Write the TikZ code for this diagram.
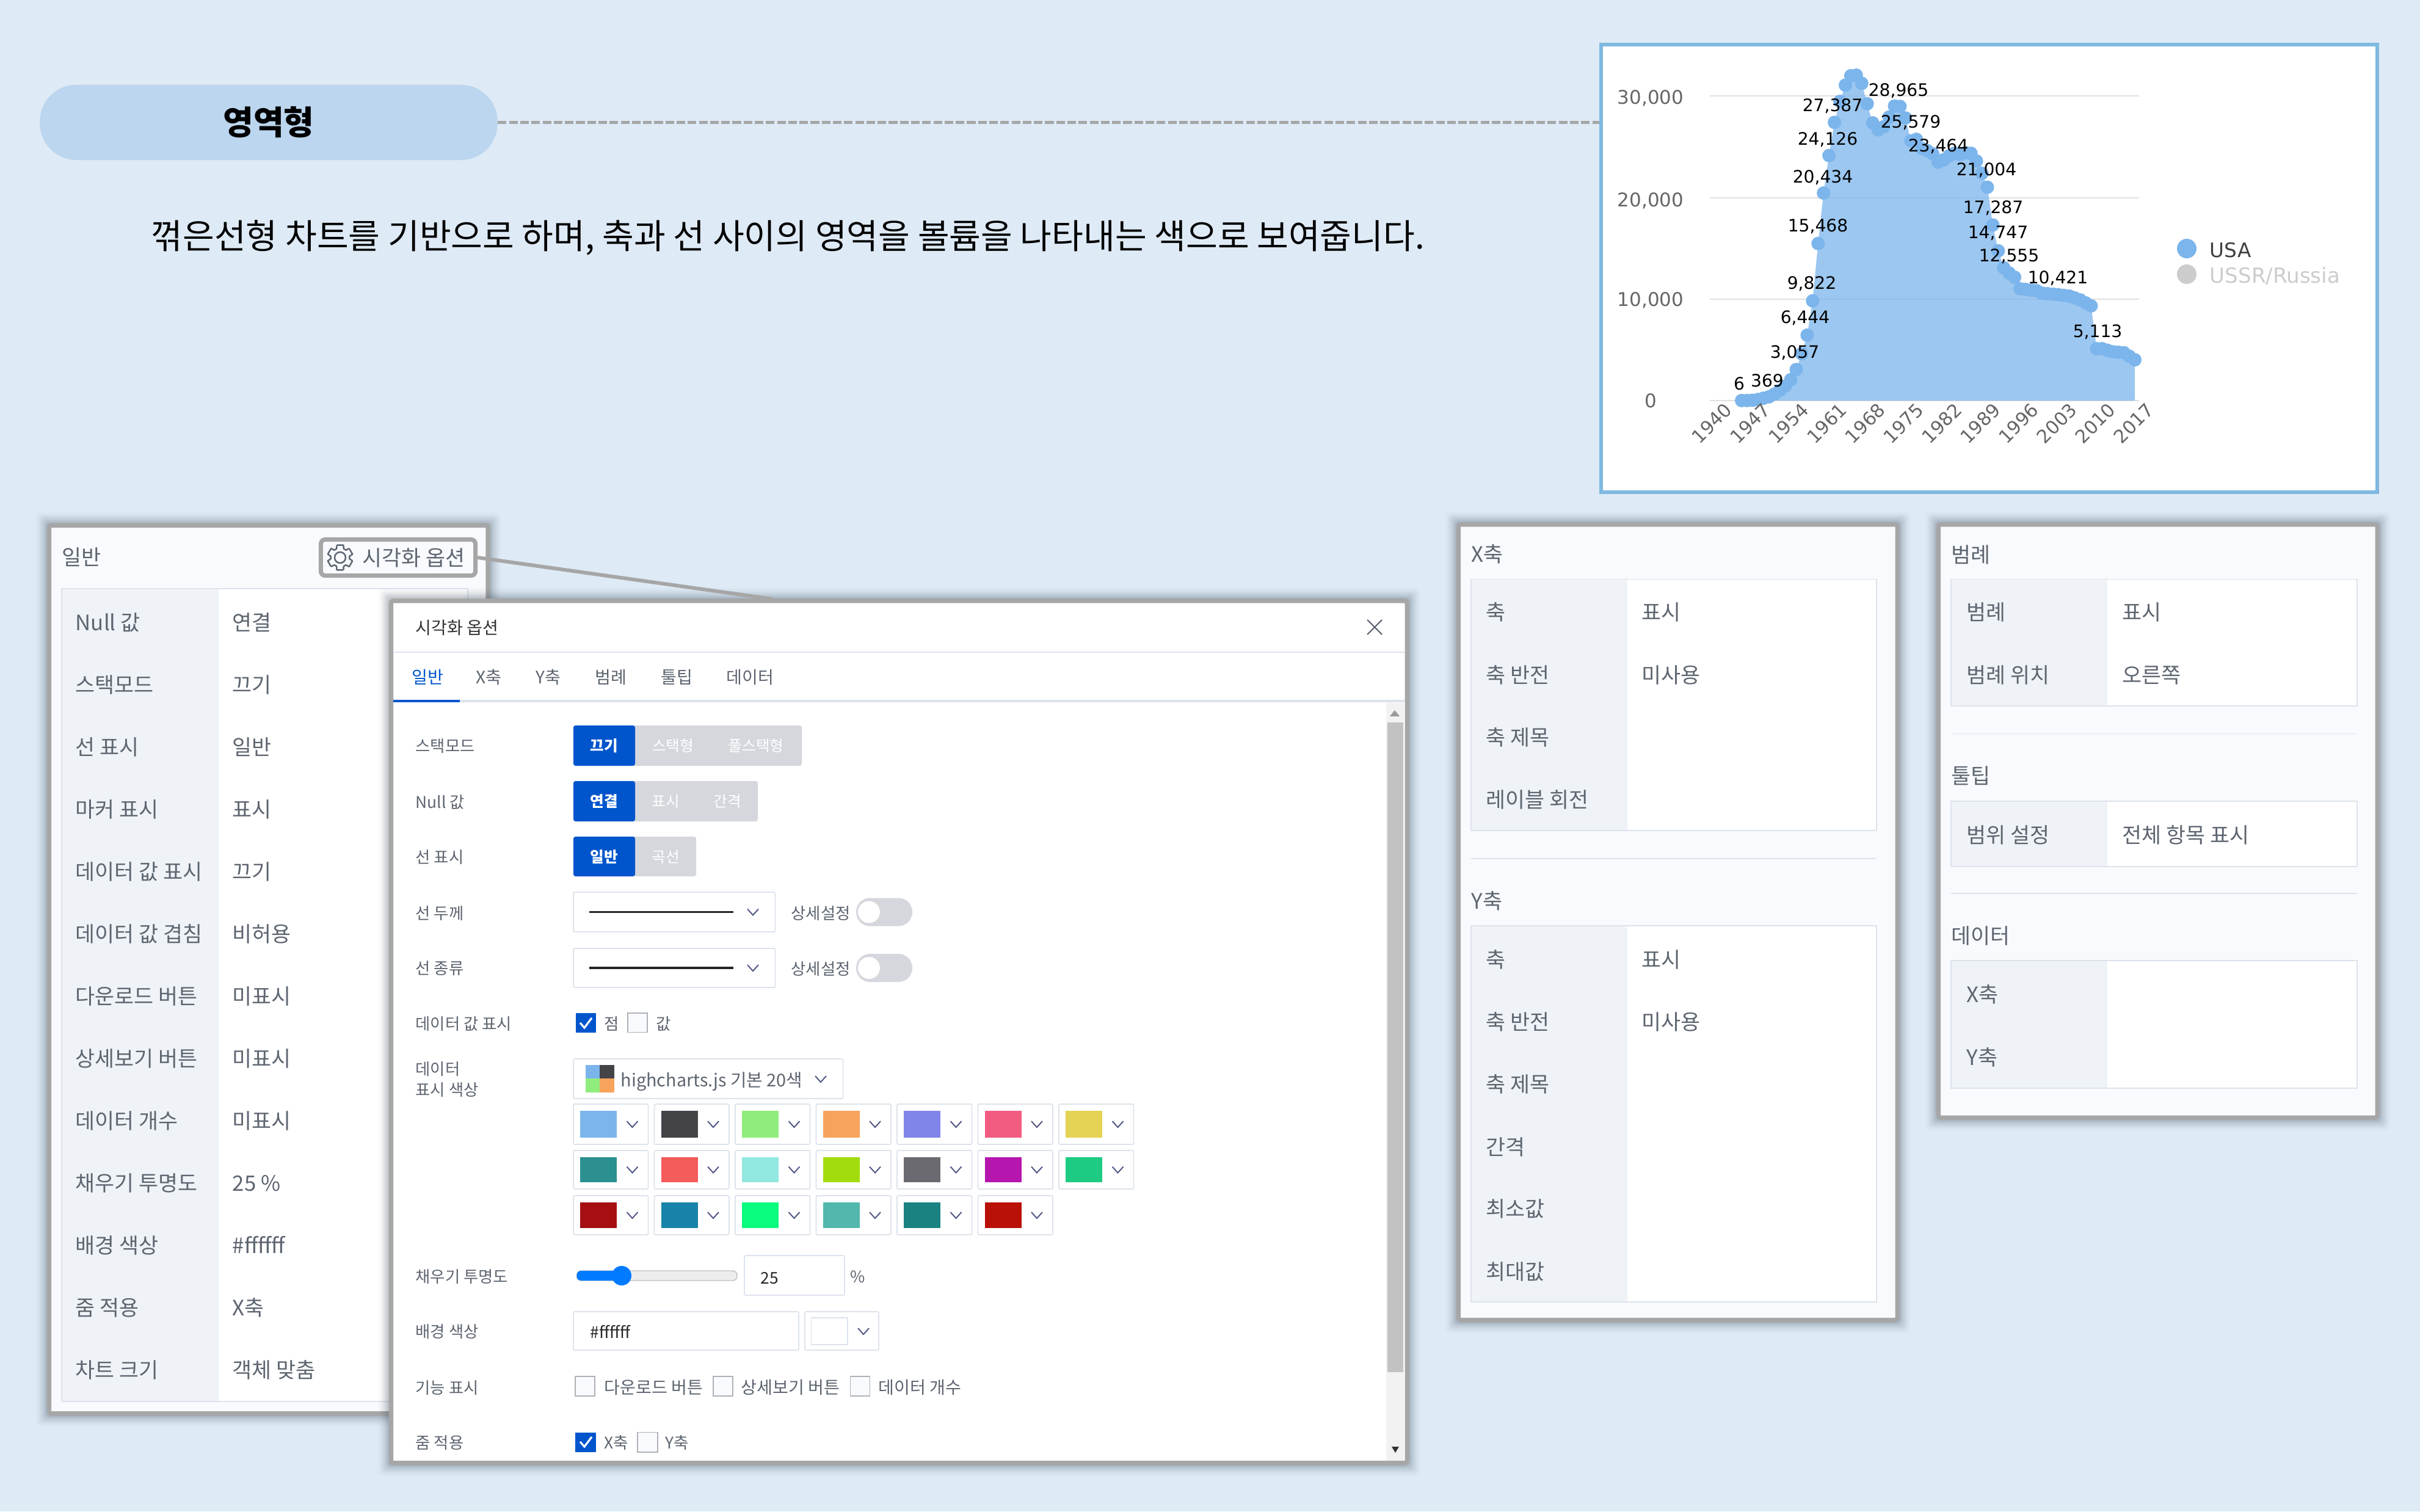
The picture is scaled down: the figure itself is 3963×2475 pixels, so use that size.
\documentclass[tikz,border=0pt]{standalone}
\usepackage{fontspec}
\setmainfont{Noto Sans CJK KR}
\newfontfamily\chartfont{DejaVu Sans}

\definecolor{pagebg}{HTML}{DEEAF6}
\definecolor{pillblue}{HTML}{BBD6EE}
\definecolor{framegray}{HTML}{A6A6A6}
\definecolor{panelbg}{HTML}{F8FAFD}
\definecolor{labbg}{HTML}{EFF3F7}
\definecolor{tabline}{HTML}{DDE3EC}
\definecolor{txtgray}{HTML}{5D6570}
\definecolor{activeblue}{HTML}{0055CC}
\definecolor{btngray}{HTML}{D5D7DD}
\definecolor{chartblue}{HTML}{7CB5EC}
\definecolor{chartframe}{HTML}{7FB9E0}
\definecolor{themedark}{HTML}{434348}
\definecolor{themegreen}{HTML}{90ED7D}
\definecolor{themeorange}{HTML}{F7A35C}
\definecolor{sliderblue}{HTML}{007BFF}
\definecolor{shadowslate}{HTML}{4A5866}

\tikzset{
  panelframe/.style={draw=framegray, line width=2pt, fill=panelbg, rounded corners=1pt},
  tableline/.style={draw=tabline, line width=0.5pt},
  lab/.style={anchor=west, inner sep=0pt, text height=0.8em, text depth=0.2em},
  rowtxt/.style={lab, yshift=-0.8pt, text=txtgray, font=\fontsize{9.9}{12}\selectfont},
  modaltxt/.style={lab, text=txtgray, font=\fontsize{7.5}{9}\selectfont},
  smalltxt/.style={lab, text=txtgray, font=\fontsize{7.5}{9}\selectfont},
  widetxt/.style={lab, text=txtgray, font=\fontsize{8}{10}\selectfont},
  tabtxt/.style={lab, text=txtgray, font=\fontsize{8}{10}\selectfont},
  btntxt/.style={inner sep=0pt, text=white, font=\fontsize{7}{9}\selectfont\bfseries},
  offtxt/.style={inner sep=0pt, text=white, font=\fontsize{7}{9}\selectfont},
  inbox/.style={draw=tabline, line width=0.5pt, fill=white, rounded corners=0.6pt},
  chevline/.style={draw=txtgray!85!blue, line width=0.55pt},
  tickbox/.style={draw=txtgray!50, line width=0.4pt, fill=panelbg},
  numtxt/.style={inner sep=0pt, yshift=-0.5pt, text=black, font=\chartfont\fontsize{8}{10}\selectfont},
  axistxt/.style={inner sep=0pt, text=black!60, font=\chartfont\fontsize{8.8}{10}\selectfont},
  dashline/.style={draw=framegray, line width=1.4pt, dash pattern=on 4pt off 1.2pt},
}

\newcommand{\softshadow}[4]{%
  \foreach \s [evaluate=\s as \op using 0.1*(1-\s/24)] in {2,4,...,22}
    \fill[shadowslate, opacity=\op, rounded corners=2pt] (#1-\s,#2-\s) rectangle (#3+\s,#4+\s);
}
\newcommand{\settable}[5]{%
  \fill[white] (#1,#2) rectangle (#4,#5);
  \fill[labbg] (#1,#2) rectangle (#3,#5);
  \draw[tableline] (#1,#2) rectangle (#4,#5);
}
\newcommand{\chevmark}[2]{\draw[chevline] ({#1-9},{#2-5}) -- ({#1},{#2+5}) -- ({#1+9},{#2-5});}

\begin{document}
\begin{tikzpicture}[x=0.01cm,y=-0.01cm]
\useasboundingbox (0,0) rectangle (3963,2475);
\fill[pagebg] (0,0) rectangle (3963,2475);

% Title and chart frame
\node[fill=pillblue, inner sep=0pt, minimum width=7.49cm, minimum height=1.23cm, rounded corners=17pt, font=\fontsize{15.4}{18}\selectfont\bfseries] (pill) at (440,200.5) {\raisebox{-1pt}{영역형}};
\node[draw=chartframe, line width=1.7pt, fill=white, inner sep=0pt, minimum width=12.71cm, minimum height=7.33cm] (chartbox) at (3257.5,439.5) {};
\draw[dashline] (pill.east) -- (pill.east -| chartbox.west);
\node[inner sep=0pt, anchor=west, font=\fontsize{16}{19}\selectfont] (desc) at (247,389) {꺾은선형 차트를 기반으로 하며, 축과 선 사이의 영역을 볼륨을 나타내는 색으로 보여줍니다.};

% Chart grid
\foreach \gy/\glab/\tx in {157/30{,}000/161, 324/20{,}000/329, 490/10{,}000/492, 656/0/656} {
    \draw[black!12, line width=0.7pt] (2800,\gy) -- (3503,\gy);
    \node[axistxt] (ytick\gy) at (2703,\tx) {\glab};
}
% Chart area and markers (values in hundreds)
\def\usadata{0.06,0.11,0.32,1.10,2.35,3.69,6.40,10.05,14.36,20.63,30.57,46.18,64.44,98.22,154.68,204.34,241.26,273.87,294.59,310.56,319.82,320.40,312.33,292.24,273.42,266.62,269.56,279.12,289.99,289.65,278.26,255.79,257.22,248.26,246.05,243.04,234.64,237.08,240.99,243.57,242.37,244.01,243.44,235.86,223.80,210.04,172.87,147.47,130.76,125.55,121.44,110.09,109.50,108.71,108.24,105.77,105.27,104.75,104.21,103.58,102.95,101.04,99.14,96.20,93.26,51.13,51.13,49.54,48.04,47.61,47.17,43.68,40.18}
\fill[chartblue, opacity=0.75] (2852,656) \foreach \v [count=\k] in \usadata { -- ({2852+8.944*(\k-1)},{656-1.6633*\v}) } -- (3496,656) -- cycle;
\foreach \v [count=\k] in \usadata {
    \fill[chartblue] ({2852+8.944*(\k-1)},{656-1.6633*\v}) circle[radius=11];
}
% Data labels
\foreach \lx/\ly/\lab [count=\n] in {3109/147/28{,}965, 3001/172/27{,}387, 3129/199/25{,}579, 2993/227/24{,}126, 3174/238/23{,}464, 3253/277/21{,}004, 2985/289/20{,}434, 3264/339/17{,}287, 2977/369/15{,}468, 3272/380/14{,}747, 3290/418/12{,}555, 3370/454/10{,}421, 2967/463/9{,}822, 2956/519/6{,}444, 3435/542/5{,}113, 2939/576/3{,}057, 2894/621/369, 2848/626/6} {
    \node[numtxt] (dlab\n) at (\lx,\ly) {\lab};
}
\foreach \yr [count=\k from 0] in {1940,1947,...,2017} {
    \node[axistxt, rotate=45, font=\chartfont\fontsize{8.6}{10}\selectfont] (xtick\yr) at ({2803+62.8*\k},693) {\yr};
}
% Chart legend
\fill[chartblue] (3581,407) circle[radius=16];
\fill[black!20] (3581,449) circle[radius=16];
\node[lab, text=black!75, font=\chartfont\fontsize{9.3}{11}\selectfont] (legusa) at (3618,411) {USA};
\node[lab, text=black!20, font=\chartfont\fontsize{9.7}{11}\selectfont] (legrus) at (3618,453) {USSR/Russia};

% General panel
\softshadow{80.5}{860.5}{799}{2314.5}
\draw[panelframe] (80.5,860.5) rectangle (799,2314.5);
\node[rowtxt] (gentitle) at (101,912) {일반};
\settable{101}{964}{358}{766}{2295}
\foreach \lab [count=\i] in {Null 값,스택모드,선 표시,마커 표시,데이터 값 표시,데이터 값 겹침,다운로드 버튼,상세보기 버튼,데이터 개수,채우기 투명도,배경 색상,줌 적용,차트 크기} {
    \node[rowtxt] (genlab\i) at (123,{1019+102*(\i-1)}) {\lab};
}
\foreach \val [count=\i] in {연결,끄기,일반,표시,끄기,비허용,미표시,미표시,미표시,25 \%,\#ffffff,X축,객체 맞춤} {
    \node[rowtxt] (genval\i) at (380,{1019+102*(\i-1)}) {\val};
}
% Options button
\node[draw=framegray, line width=2pt, fill=panelbg, rounded corners=2pt, inner sep=0pt, minimum width=2.53cm, minimum height=0.59cm] (optbtn) at (652,913) {};
\begin{scope}[shift={(557,913)}]
\draw[txtgray, line width=0.7pt, line join=round] \foreach \a in {30,90,...,330} { (\a-15:21) -- (\a+15:21) -- (\a+22:15.5) -- (\a+38:15.5) -- (\a+45:21) };
\draw[txtgray, line width=0.7pt] (0,0) circle[radius=9];
\end{scope}
\node[rowtxt] (opttxt) at (593,913) {시각화 옵션};

% Modal
\softshadow{640.5}{984}{2304}{2395.5}
\coordinate (modaltop) at (1265,981);
\draw[framegray, line width=1.7pt] (optbtn.east) -- (modaltop);
\draw[panelframe, fill=white] (640.5,984) rectangle (2304,2395.5);
\node[tabtxt, text=black!80] (modaltitle) at (680,1028) {시각화 옵션};
\draw[tabline, line width=0.4pt] (644,1068) -- (2300,1068);
\draw[tabline, line width=1.4pt] (644,1148) -- (2300,1148);
\draw[activeblue, line width=1.4pt] (644,1148) -- (753,1148);
\foreach \tx/\lab [count=\i] in {779/X축,877/Y축,974/범례,1082/툴팁,1189/데이터} {
    \node[tabtxt] (tab\i) at (\tx,1109) {\lab};
}
\node[tabtxt, text=activeblue] (tab0) at (674,1109) {일반};
\draw[txtgray, line width=0.6pt] (2239,1015) -- (2263,1039) (2263,1015) -- (2239,1039);

% Scrollbar
\fill[black!5] (2270,1151) rectangle (2299,2392);
\fill[black!24] (2272,1183) rectangle (2298,2247);
\fill[black!40] (2276,1173) -- (2292,1173) -- (2284,1163) -- cycle;
\fill[black!80] (2279,2369) -- (2291,2369) -- (2285,2379) -- cycle;

% Modal row labels
\foreach \ly/\lab [count=\i] in {1221/스택모드,1313/Null 값,1403/선 표시,1495/선 두께,1585/선 종류,1676/데이터 값 표시,1750/데이터,1784/표시 색상,2090/채우기 투명도,2180/배경 색상,2272/기능 표시,2362/줌 적용} {
    \node[modaltxt] (mlab\i) at (680,\ly) {\lab};
}

% Button groups
\foreach \yt/\yb/\xr in {1188/1254/1313, 1279/1345/1241, 1370/1435/1140} {
    \fill[btngray, rounded corners=1pt] (939,\yt) rectangle (\xr,\yb);
    \fill[activeblue, rounded corners=1pt] (939,\yt) rectangle (1040,\yb);
}
\foreach \bx/\by/\lab [count=\i] in {989/1221/끄기, 989/1312/연결, 989/1403/일반} {
    \node[btntxt] (onbtn\i) at (\bx,\by) {\lab};
}
\foreach \bx/\by/\lab [count=\i] in {1102/1221/스택형, 1238/1221/풀스택형, 1090/1312/표시, 1191/1312/간격, 1090/1403/곡선} {
    \node[offtxt] (offbtn\i) at (\bx,\by) {\lab};
}

% Line selects and toggles
\foreach \yt/\yb/\w [count=\i] in {1461/1526/0.6, 1553/1617/1.0} {
    \draw[inbox] (939,\yt) rectangle (1269.5,\yb);
    \draw[black!85, line width=\w pt] (965,{(\yt+\yb)/2}) -- (1201,{(\yt+\yb)/2});
    \chevmark{1233}{(\yt+\yb)/2}
    \node[smalltxt] (detail\i) at (1295,{(\yt+\yb)/2+1}) {상세설정};
    \fill[btngray, rounded corners=6.4pt] (1402,{(\yt+\yb)/2-23}) rectangle (1494,{(\yt+\yb)/2+23});
    \fill[white] (1423,{(\yt+\yb)/2}) circle[radius=18];
}

% Data value checks
\fill[activeblue] (943,1659) rectangle (976,1690.5);
\draw[white, line width=0.9pt] (950,1675) -- (957,1683) -- (969,1667);
\node[modaltxt] (chkdot) at (989,1676) {점};
\draw[tickbox] (1028,1659) rectangle (1060,1690.5);
\node[modaltxt] (chkval) at (1074,1676) {값};

% Colour theme select
\draw[inbox] (939,1734) rectangle (1380.5,1799);
\fill[chartblue] (959,1744) rectangle (982,1766);
\fill[themedark] (982,1744) rectangle (1006,1766);
\fill[themegreen] (959,1766) rectangle (982,1789);
\fill[themeorange] (982,1766) rectangle (1006,1789);
\node[widetxt, font=\fontsize{8.2}{10}\selectfont] (theme) at (1016,1769) {highcharts.js 기본 20색};
\chevmark{1344}{1767}

% Colour swatches
\foreach \hex/\cl/\bt/\bb in {
  7CB5EC/0/1808/1874, 434348/1/1808/1874, 90ED7D/2/1808/1874, F7A35C/3/1808/1874, 8085E9/4/1808/1874, F15C80/5/1808/1874, E4D354/6/1808/1874,
  2B908F/0/1884/1947, F45B5B/1/1884/1947, 91E8E1/2/1884/1947, A2DC0D/3/1884/1947, 6A6A70/4/1884/1947, B616AE/5/1884/1947, 1ECB82/6/1884/1947,
  A50F12/0/1958/2022, 1783A8/1/1958/2022, 09FC7D/2/1958/2022, 52B7AC/3/1958/2022, 1A8280/4/1958/2022, B91007/5/1958/2022} {
    \definecolor{swatch}{HTML}{\hex}
    \draw[inbox] ({939+132.5*\cl},\bt) rectangle ({939+132.5*\cl+122.5},\bb);
    \fill[swatch] ({950+132.5*\cl},{\bt+11}) rectangle ({1010+132.5*\cl},{\bb-11});
    \chevmark{1035.5+132.5*\cl}{(\bt+\bb)/2}
}

% Opacity slider
\draw[black!25, fill=black!7, line width=0.4pt, rounded corners=2pt] (944.5,2081) rectangle (1207,2097);
\fill[sliderblue, rounded corners=2pt] (944.5,2081) rectangle (1018,2097);
\fill[sliderblue] (1018,2089) circle[radius=16];
\draw[inbox] (1219,2056) rectangle (1383,2121);
\node[modaltxt, text=black!85] (alphaval) at (1245,2092) {25};
\node[modaltxt] (alphapct) at (1392,2090) {\%};

% Background colour
\draw[inbox] (939,2148) rectangle (1308,2211);
\node[modaltxt, text=black!85] (bgval) at (966,2181) {\#ffffff};
\draw[inbox] (1318,2148) rectangle (1439,2211);
\draw[tabline, fill=white, line width=0.4pt] (1328.5,2158) rectangle (1388,2202);
\chevmark{1414}{2180}

% Feature and zoom checks
\foreach \bx/\tx/\lab [count=\i] in {942/989/다운로드 버튼, 1168/1213/상세보기 버튼, 1392.5/1438/데이터 개수} {
    \draw[tickbox] (\bx,2254) rectangle ({\bx+32},2286);
    \node[widetxt] (feat\i) at (\tx,2272) {\lab};
}
\fill[activeblue] (942,2345.5) rectangle (976,2378);
\draw[white, line width=0.9pt] (950,2361) -- (957,2369) -- (969,2353);
\node[modaltxt] (zoomx) at (989,2362) {X축};
\draw[tickbox] (1044,2345.5) rectangle (1077,2378);
\node[modaltxt] (zoomy) at (1089,2362) {Y축};

% Axis panel
\softshadow{2388.5}{859}{3107}{2161.5}
\draw[panelframe] (2388.5,859) rectangle (3107,2161.5);
\node[rowtxt] (xtitle) at (2409,907) {X축};
\settable{2409}{948.5}{2665}{3073}{1360}
\foreach \ly/\lab [count=\i] in {1002/축,1105/축 반전,1207.5/축 제목,1309/레이블 회전} {
    \node[rowtxt] (xlab\i) at (2433,\ly) {\lab};
}
\node[rowtxt] (xval1) at (2688,1002) {표시};
\node[rowtxt] (xval2) at (2688,1105) {미사용};
\draw[tabline, line width=0.5pt] (2409,1406) -- (3073,1406);
\node[rowtxt] (ytitle) at (2409,1475) {Y축};
\settable{2409}{1516}{2665}{3073}{2132}
\foreach \ly/\lab [count=\i] in {1571/축,1673/축 반전,1775/축 제목,1878/간격,1979/최소값,2082/최대값} {
    \node[rowtxt] (ylab\i) at (2433,\ly) {\lab};
}
\node[rowtxt] (yval1) at (2688,1571) {표시};
\node[rowtxt] (yval2) at (2688,1673) {미사용};

% Legend panel
\softshadow{3174.5}{859}{3893}{1830}
\draw[panelframe] (3174.5,859) rectangle (3893,1830);
\node[rowtxt] (legtitle) at (3195,908) {범례};
\settable{3195}{948.5}{3451}{3860}{1156}
\node[rowtxt] (leglab1) at (3220,1002) {범례};
\node[rowtxt] (leglab2) at (3220,1105) {범례 위치};
\node[rowtxt] (legval1) at (3475,1002) {표시};
\node[rowtxt] (legval2) at (3475,1105) {오른쪽};
\draw[tabline, line width=0.5pt] (3195,1201.5) -- (3860,1201.5);
\node[rowtxt] (tiptitle) at (3195,1270) {툴팁};
\settable{3195}{1312}{3451}{3860}{1419}
\node[rowtxt] (tiplab) at (3220,1367) {범위 설정};
\node[rowtxt] (tipval) at (3475,1367) {전체 항목 표시};
\draw[tabline, line width=0.5pt] (3195,1463) -- (3860,1463);
\node[rowtxt] (datatitle) at (3195,1532) {데이터};
\settable{3195}{1573}{3451}{3860}{1782}
\node[rowtxt] (datax) at (3220,1628) {X축};
\node[rowtxt] (datay) at (3220,1731) {Y축};
\end{tikzpicture}
\end{document}
